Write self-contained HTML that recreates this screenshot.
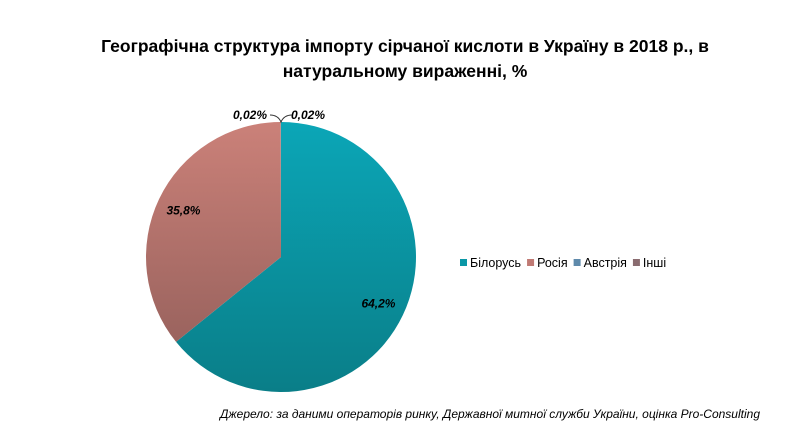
<!DOCTYPE html>
<html><head><meta charset="utf-8"><style>
body{margin:0;background:#fff;width:811px;height:438px;overflow:hidden;font-family:"Liberation Sans",sans-serif}
</style></head><body>
<svg width="811" height="438">
<defs>
<linearGradient id="g0" x1="0" y1="0" x2="0" y2="1"><stop offset="0" stop-color="#0ba6b7"/><stop offset="1" stop-color="#0a7e88"/></linearGradient>
<linearGradient id="g1" x1="0" y1="0" x2="0" y2="1"><stop offset="0" stop-color="#cb8179"/><stop offset="1" stop-color="#9a635e"/></linearGradient>
<linearGradient id="g2" x1="0" y1="0" x2="0" y2="1"><stop offset="0" stop-color="#6f9cc0"/><stop offset="1" stop-color="#4d7896"/></linearGradient>
<linearGradient id="g3" x1="0" y1="0" x2="0" y2="1"><stop offset="0" stop-color="#9a7b80"/><stop offset="1" stop-color="#735a5e"/></linearGradient>
</defs>
<text x="405" y="52" text-anchor="middle" font-size="17.5" font-weight="bold">Географічна структура імпорту сірчаної кислоти в Україну в 2018 р., в</text>
<text x="405" y="77" text-anchor="middle" font-size="17.5" font-weight="bold">натуральному вираженні, %</text>
<g id="pie"></g>
<g id="legend"></g>
<text x="760" y="418" text-anchor="end" font-size="12" font-style="italic">Джерело: за даними операторів ринку, Державної митної служби України, оцінка Pro-Consulting</text>
</svg>
<script>
const categories=["Білорусь","Росія","Австрія","Інші"];
const values=[64.2,35.8,0.02,0.02];
const labels=["64,2%","35,8%","0,02%","0,02%"];
const fills=["url(#g0)","url(#g1)","url(#g2)","url(#g3)"];
const swatch=["#0a97a6","#c07a74","#5f8aab","#8a6c70"];
const cx=281,cy=257,r=135,NS="http://www.w3.org/2000/svg";
const pie=document.getElementById('pie');
const total=values.reduce((a,b)=>a+b,0);
function pt(a,rr){return [cx+rr*Math.sin(a),cy-rr*Math.cos(a)];}
let acc=0;
values.forEach((v,i)=>{
  const a0=acc/total*2*Math.PI;acc+=v;const a1=acc/total*2*Math.PI;
  const p0=pt(a0,r),p1=pt(a1,r);
  const path=document.createElementNS(NS,'path');
  path.setAttribute('d',`M${cx},${cy}L${p0[0]},${p0[1]}A${r},${r} 0 ${a1-a0>Math.PI?1:0} 1 ${p1[0]},${p1[1]}Z`);
  path.setAttribute('fill',fills[i]);
  
  
  pie.appendChild(path);
  const t=document.createElementNS(NS,'text');
  let lx,ly;
  if(v/total>0.05){const m=pt((a0+a1)/2,r*0.8);lx=m[0];ly=m[1]+4;}
  else{lx=cx+(i===2?-31:27);ly=cy-r-3;}
  t.setAttribute('x',lx);t.setAttribute('y',ly);
  t.setAttribute('text-anchor','middle');
  t.setAttribute('font-size','12');t.setAttribute('font-weight','bold');t.setAttribute('font-style','italic');
  
  
  t.textContent=labels[i];pie.appendChild(t);
});
const ld=document.createElementNS(NS,'path');
ld.setAttribute('d',`M${cx-11},${cy-r-7}Q${cx-3},${cy-r-7} ${cx},${cy-r} Q${cx+3},${cy-r-7} ${cx+11},${cy-r-7}`);
ld.setAttribute('fill','none');ld.setAttribute('stroke','#333');ld.setAttribute('stroke-width','1');


pie.appendChild(ld);
const lg=document.getElementById('legend');
let lx=460;
categories.forEach((c,i)=>{
  const s=document.createElementNS(NS,'rect');
  s.setAttribute('x',lx);s.setAttribute('y',259);s.setAttribute('width',7);s.setAttribute('height',7);s.setAttribute('fill',swatch[i]);
  
  
  lg.appendChild(s);
  const t=document.createElementNS(NS,'text');
  t.setAttribute('x',lx+10);t.setAttribute('y',267);t.setAttribute('font-size','12.5');
  
  
  t.textContent=c;lg.appendChild(t);
  lx+=10+t.getComputedTextLength()+6;
});
</script>
</body></html>
